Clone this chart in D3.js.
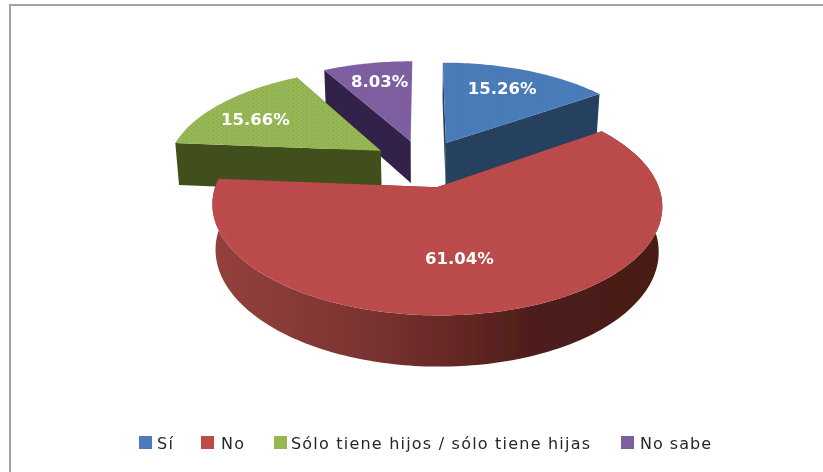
<!DOCTYPE html>
<html>
<head>
<meta charset="utf-8">
<script src="https://cdn.jsdelivr.net/npm/d3@7"></script>
<style>
  html, body { margin: 0; background: #fff; }
  svg { display: block; }
  text { font-family: "DejaVu Sans", sans-serif; }
</style>
</head>
<body>
<div id="chart"></div>
<script>
// values
var categories = ["Sí", "No", "Sólo tiene hijos / sólo tiene hijas", "No sabe"];
var percents = [15.26, 61.04, 15.66, 8.03];
var topColors = ["#4a7dba", "#bd4b48", "#96b853", "#7e60a1"];
var wallColors = ["#254061", "#6b2b29", "#3f4f1e", "#31234a"];

var svgWidth = 823;
var svgHeight = 472;

// perspective projection of the pie's flat plane onto the page
var centerX = 423, centerY = 163.5;
var scaleU = 213.7, scaleV = 99.2, persp = 0.159;
var explode = 0.24, depth = 43, depthPower = 0.8, depthShrink = 0.985;

var svg = d3.select("#chart").append("svg")
    .attr("width", svgWidth)
    .attr("height", svgHeight);

var defs = svg.append("defs");

var soft = defs.append("filter").attr("id", "soft");
soft.append("feGaussianBlur").attr("stdDeviation", 0.45);

// dither dots seen on the faces of the original
var dots = defs.append("pattern")
    .attr("id", "dots")
    .attr("width", 5).attr("height", 4)
    .attr("patternUnits", "userSpaceOnUse");
dots.append("rect").attr("x", 1).attr("y", 1).attr("width", 1).attr("height", 1)
    .attr("fill", "#6a3f8a").attr("opacity", 0.24);
dots.append("rect").attr("x", 3).attr("y", 3).attr("width", 1).attr("height", 1)
    .attr("fill", "#6a3f8a").attr("opacity", 0.24);

var redWall = defs.append("linearGradient").attr("id", "redWall");
[[0, "#94403d"], [0.3, "#7f3533"], [0.55, "#642725"], [0.72, "#4e1d1b"], [1, "#481a18"]]
    .forEach(function(s) {
        redWall.append("stop").attr("offset", s[0]).attr("stop-color", s[1]);
    });

// frame: only the top and left sides show
svg.append("line").attr("x1", 10).attr("y1", 5).attr("x2", svgWidth).attr("y2", 5)
    .attr("stroke", "#a3a3a3").attr("stroke-width", 2);
svg.append("line").attr("x1", 10).attr("y1", 4).attr("x2", 10).attr("y2", svgHeight)
    .attr("stroke", "#a3a3a3").attr("stroke-width", 2);

var pie = d3.pie().sort(null).value(function(d) { return d; });
var slices = pie(percents);

function planePoint(slice, angle, r) {
    var mid = (slice.startAngle + slice.endAngle) / 2;
    return {
        u: explode * Math.sin(mid) + r * Math.sin(angle),
        v: -explode * Math.cos(mid) - r * Math.cos(angle)
    };
}

function project(p) {
    var s = 1 / (1 - persp * p.v);
    return { x: centerX + scaleU * p.u * s, y: centerY + scaleV * p.v * s, s: s };
}

function topPoint(slice, angle, r) {
    return project(planePoint(slice, angle, r));
}

function bottomPoint(slice, angle, r) {
    var p = topPoint(slice, angle, r);
    return {
        x: centerX + (p.x - centerX) * depthShrink,
        y: p.y + depth * Math.pow(p.s, depthPower)
    };
}

var line = d3.line().x(function(d) { return d.x; }).y(function(d) { return d.y; });

function arcAngles(slice) {
    var n = Math.ceil((slice.endAngle - slice.startAngle) / 0.02);
    return d3.range(n + 1).map(function(i) {
        return slice.startAngle + (slice.endAngle - slice.startAngle) * i / n;
    });
}

function radialWall(slice, angle) {
    return line([
        topPoint(slice, angle, 0), topPoint(slice, angle, 1),
        bottomPoint(slice, angle, 1), bottomPoint(slice, angle, 0)
    ]) + "Z";
}

function outerWall(slice) {
    var angles = arcAngles(slice);
    var top = angles.map(function(a) { return topPoint(slice, a, 1); });
    var bottom = angles.slice().reverse().map(function(a) { return bottomPoint(slice, a, 1); });
    return line(top.concat(bottom)) + "Z";
}

function topFace(slice) {
    var pts = [topPoint(slice, slice.startAngle, 0)];
    arcAngles(slice).forEach(function(a) { pts.push(topPoint(slice, a, 1)); });
    return line(pts) + "Z";
}

// paint far slices first so the big red one ends up in front
var drawOrder = [3, 2, 0, 1];
var pieGroup = svg.append("g").attr("filter", "url(#soft)");

drawOrder.forEach(function(i) {
    var slice = slices[i];
    var g = pieGroup.append("g");
    g.append("path").attr("d", radialWall(slice, slice.startAngle)).attr("fill", wallColors[i]);
    // the last slice's closing face doesn't show in the original
    if (i !== 3) {
        g.append("path").attr("d", radialWall(slice, slice.endAngle)).attr("fill", wallColors[i]);
    }
    // only the red slice turns its rim towards the viewer
    if (i === 1) {
        g.append("path").attr("d", outerWall(slice)).attr("fill", "url(#redWall)");
    }
    g.append("path").attr("d", topFace(slice)).attr("fill", topColors[i]);
    g.append("path").attr("d", topFace(slice)).attr("fill", "url(#dots)");
});

// data labels
var labelRadius = [0.723, 0.6, 0.735, 0.747];
var labelTurn = [-2, 7, -4, 1];

svg.append("g").selectAll("text")
    .data(slices)
    .join("text")
    .attr("x", function(d, i) {
        var mid = (d.startAngle + d.endAngle) / 2 + labelTurn[i] * Math.PI / 180;
        return topPoint(d, mid, labelRadius[i]).x;
    })
    .attr("y", function(d, i) {
        var mid = (d.startAngle + d.endAngle) / 2 + labelTurn[i] * Math.PI / 180;
        return topPoint(d, mid, labelRadius[i]).y;
    })
    .attr("dy", "0.36em")
    .attr("text-anchor", "middle")
    .attr("fill", "#fff")
    .attr("font-size", 16.5)
    .attr("font-weight", "bold")
    .attr("filter", "url(#soft)")
    .text(function(d) { return d3.format(".2f")(d.value) + "%"; });

// legend
var legendX = d3.scaleOrdinal().domain(categories).range([139, 201, 274, 621]);
var legendTextWidth = d3.scaleOrdinal().domain(categories).range([16, 23, 299, 71]);

var legend = svg.append("g").attr("filter", "url(#soft)")
    .selectAll("g")
    .data(categories)
    .join("g")
    .attr("transform", function(d) { return "translate(" + legendX(d) + ",436)"; });

legend.append("rect")
    .attr("width", 13).attr("height", 13)
    .attr("fill", function(d, i) { return topColors[i]; });

legend.append("text")
    .attr("x", function(d, i) { return i === 3 ? 19 : i === 2 ? 17 : i === 1 ? 20 : 18; })
    .attr("y", 13)
    .attr("font-size", 16)
    .attr("fill", "#262626")
    .attr("textLength", function(d) { return legendTextWidth(d); })
    .attr("lengthAdjust", "spacing")
    .text(function(d) { return d; });
</script>
</body>
</html>
